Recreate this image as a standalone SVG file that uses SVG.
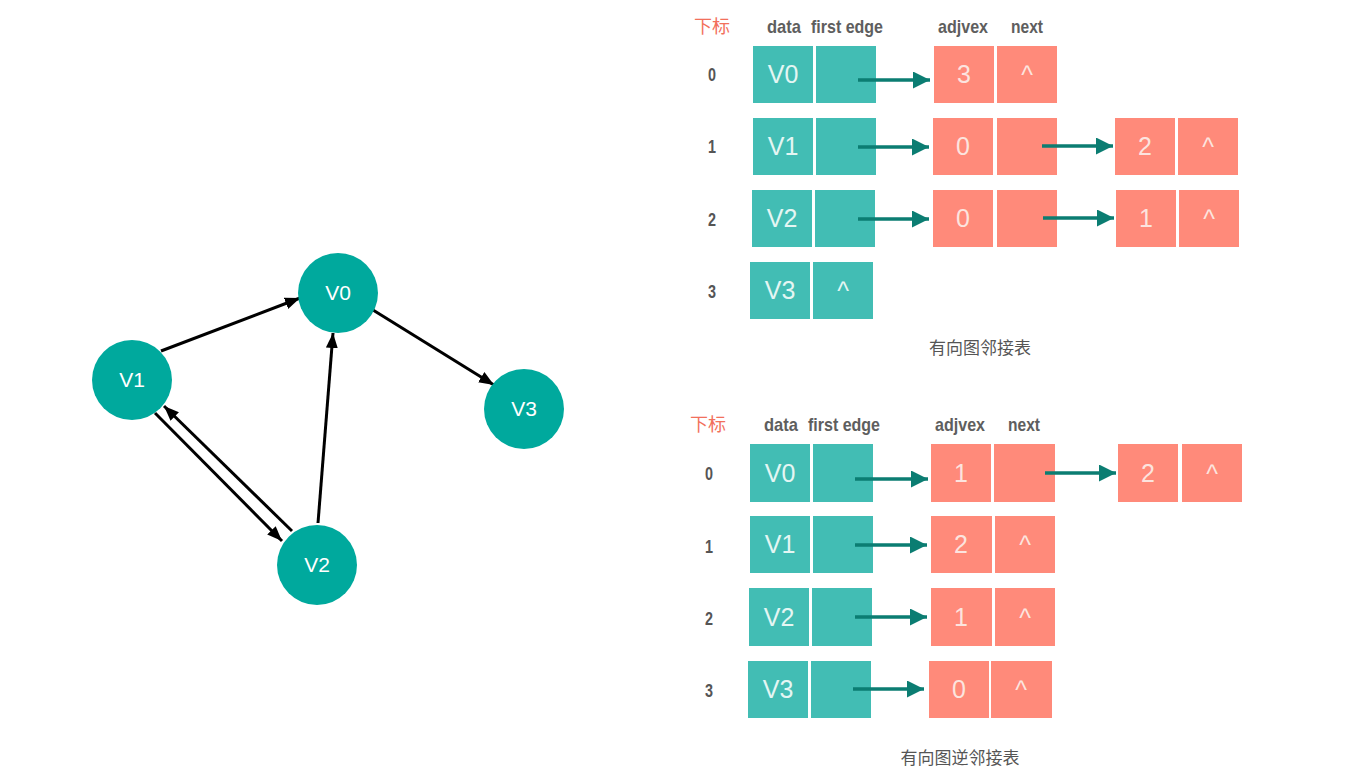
<svg xmlns="http://www.w3.org/2000/svg" width="1362" height="780" viewBox="0 0 1362 780">
<defs>
<style>
.t{fill:#42BDB4}
.r{fill:#FF8A7A}
.tt{font-family:"Liberation Sans",Arial,sans-serif;font-size:25px;fill:#E4F6F3;text-anchor:middle}
.rt{font-family:"Liberation Sans",Arial,sans-serif;font-size:25px;fill:#FCE4DF;text-anchor:middle}
.hd{font-family:"Liberation Sans",Arial,sans-serif;font-size:19px;font-weight:bold;fill:#5E5E5E}
.hr{font-family:"Noto Sans CJK SC",sans-serif;font-size:18px;fill:#F2705B}
.lb{font-family:"Liberation Sans",Arial,sans-serif;font-size:18px;font-weight:bold;fill:#555}
.cap{font-family:"Noto Sans CJK SC",sans-serif;font-size:17px;fill:#555;text-anchor:middle}
.ta{stroke:#0B7D72;stroke-width:3.5;fill:none;marker-end:url(#ta)}
.ge{stroke:#000;stroke-width:3;fill:none;marker-end:url(#ga)}
.nd{fill:#00A99D}
.nt{font-family:"Liberation Sans",Arial,sans-serif;font-size:21px;fill:#fff;text-anchor:middle}
</style>
<marker id="ta" markerUnits="userSpaceOnUse" markerWidth="18" markerHeight="18" refX="17" refY="8.5" orient="auto"><path d="M0,0 L17,8.5 L0,17 z" fill="#0B7D72"/></marker>
<marker id="ga" markerUnits="userSpaceOnUse" markerWidth="16" markerHeight="13" refX="15" refY="6" orient="auto"><path d="M0,0 L15,6 L0,12 z" fill="#000"/></marker>
</defs>
<rect width="1362" height="780" fill="#fff"/>

<!-- Graph -->
<g id="edges">
<line class="ge" x1="161" y1="351" x2="300" y2="298"/>
<line class="ge" x1="373" y1="310" x2="494" y2="385"/>
<line class="ge" x1="318" y1="523" x2="333" y2="333"/>
<line class="ge" x1="155" y1="413" x2="282" y2="541"/>
<line class="ge" x1="292" y1="531" x2="164" y2="406"/>
</g>
<g id="V0"><circle class="nd" cx="338" cy="293" r="40"/><text class="nt" x="338" y="300">V0</text></g>
<g id="V1"><circle class="nd" cx="132" cy="380" r="40"/><text class="nt" x="132" y="387">V1</text></g>
<g id="V2"><circle class="nd" cx="317" cy="565" r="40"/><text class="nt" x="317" y="572">V2</text></g>
<g id="V3"><circle class="nd" cx="524" cy="409" r="40"/><text class="nt" x="524" y="416">V3</text></g>

<!-- Top table: adjacency list -->
<g id="top-header">
<text class="hr" x="694" y="33">下标</text>
<text class="hd" x="767" y="33" textLength="34" lengthAdjust="spacingAndGlyphs">data</text>
<text class="hd" x="811" y="33" textLength="72" lengthAdjust="spacingAndGlyphs">first edge</text>
<text class="hd" x="938" y="33" textLength="50" lengthAdjust="spacingAndGlyphs">adjvex</text>
<text class="hd" x="1011" y="33" textLength="32" lengthAdjust="spacingAndGlyphs">next</text>
</g>
<g id="top-row0">
<text class="lb" x="708" y="81" textLength="8" lengthAdjust="spacingAndGlyphs">0</text>
<rect class="t" x="753" y="46" width="60" height="57"/><text class="tt" x="783" y="83">V0</text>
<rect class="t" x="816" y="46" width="60" height="57"/>
<rect class="r" x="934" y="46" width="60" height="57"/><text class="rt" x="964" y="83">3</text>
<rect class="r" x="997" y="46" width="60" height="57"/><text class="rt" x="1027" y="84" font-size="20">^</text>
</g>
<g id="top-row1">
<text class="lb" x="708" y="153" textLength="8" lengthAdjust="spacingAndGlyphs">1</text>
<rect class="t" x="753" y="118" width="60" height="57"/><text class="tt" x="783" y="155">V1</text>
<rect class="t" x="816" y="118" width="60" height="57"/>
<rect class="r" x="933" y="118" width="60" height="57"/><text class="rt" x="963" y="155">0</text>
<rect class="r" x="997" y="118" width="60" height="57"/>
<rect class="r" x="1115" y="118" width="60" height="57"/><text class="rt" x="1145" y="155">2</text>
<rect class="r" x="1178" y="118" width="60" height="57"/><text class="rt" x="1208" y="156" font-size="20">^</text>
</g>
<g id="top-row2">
<text class="lb" x="708" y="226" textLength="8" lengthAdjust="spacingAndGlyphs">2</text>
<rect class="t" x="752" y="190" width="60" height="57"/><text class="tt" x="782" y="227">V2</text>
<rect class="t" x="815" y="190" width="60" height="57"/>
<rect class="r" x="933" y="190" width="60" height="57"/><text class="rt" x="963" y="227">0</text>
<rect class="r" x="997" y="190" width="60" height="57"/>
<rect class="r" x="1116" y="190" width="60" height="57"/><text class="rt" x="1146" y="227">1</text>
<rect class="r" x="1179" y="190" width="60" height="57"/><text class="rt" x="1209" y="228" font-size="20">^</text>
</g>
<g id="top-row3">
<text class="lb" x="708" y="298" textLength="8" lengthAdjust="spacingAndGlyphs">3</text>
<rect class="t" x="750" y="262" width="60" height="57"/><text class="tt" x="780" y="299">V3</text>
<rect class="t" x="813" y="262" width="60" height="57"/><text class="tt" x="843" y="300" font-size="20">^</text>
</g>
<text class="cap" x="980" y="354">有向图邻接表</text>

<!-- Bottom table: inverse adjacency list -->
<g id="bottom-header">
<text class="hr" x="690" y="431">下标</text>
<text class="hd" x="764" y="431" textLength="34" lengthAdjust="spacingAndGlyphs">data</text>
<text class="hd" x="808" y="431" textLength="72" lengthAdjust="spacingAndGlyphs">first edge</text>
<text class="hd" x="935" y="431" textLength="50" lengthAdjust="spacingAndGlyphs">adjvex</text>
<text class="hd" x="1008" y="431" textLength="32" lengthAdjust="spacingAndGlyphs">next</text>
</g>
<g id="bottom-row0">
<text class="lb" x="705" y="480" textLength="8" lengthAdjust="spacingAndGlyphs">0</text>
<rect class="t" x="750" y="444" width="60" height="58"/><text class="tt" x="780" y="482">V0</text>
<rect class="t" x="813" y="444" width="60" height="58"/>
<rect class="r" x="931" y="444" width="60" height="58"/><text class="rt" x="961" y="482">1</text>
<rect class="r" x="994" y="444" width="61" height="58"/>
<rect class="r" x="1118" y="444" width="60" height="58"/><text class="rt" x="1148" y="482">2</text>
<rect class="r" x="1182" y="444" width="60" height="58"/><text class="rt" x="1212" y="483" font-size="20">^</text>
</g>
<g id="bottom-row1">
<text class="lb" x="705" y="553" textLength="8" lengthAdjust="spacingAndGlyphs">1</text>
<rect class="t" x="750" y="516" width="60" height="57"/><text class="tt" x="780" y="553">V1</text>
<rect class="t" x="813" y="516" width="60" height="57"/>
<rect class="r" x="931" y="516" width="61" height="57"/><text class="rt" x="961" y="553">2</text>
<rect class="r" x="995" y="516" width="60" height="57"/><text class="rt" x="1025" y="554" font-size="20">^</text>
</g>
<g id="bottom-row2">
<text class="lb" x="705" y="625" textLength="8" lengthAdjust="spacingAndGlyphs">2</text>
<rect class="t" x="749" y="588" width="60" height="58"/><text class="tt" x="779" y="626">V2</text>
<rect class="t" x="812" y="588" width="60" height="58"/>
<rect class="r" x="931" y="588" width="61" height="58"/><text class="rt" x="961" y="626">1</text>
<rect class="r" x="995" y="588" width="60" height="58"/><text class="rt" x="1025" y="627" font-size="20">^</text>
</g>
<g id="bottom-row3">
<text class="lb" x="705" y="697" textLength="8" lengthAdjust="spacingAndGlyphs">3</text>
<rect class="t" x="748" y="661" width="60" height="57"/><text class="tt" x="778" y="698">V3</text>
<rect class="t" x="811" y="661" width="60" height="57"/>
<rect class="r" x="929" y="661" width="60" height="57"/><text class="rt" x="959" y="698">0</text>
<rect class="r" x="991" y="661" width="61" height="57"/><text class="rt" x="1021" y="699" font-size="20">^</text>
</g>
<text class="cap" x="960" y="764" font-size="18">有向图逆邻接表</text>

<g id="table-connectors">
<line class="ta" x1="858" y1="80" x2="930" y2="80"/>
<line class="ta" x1="858" y1="147" x2="929" y2="147"/>
<line class="ta" x1="1042" y1="146" x2="1113" y2="146"/>
<line class="ta" x1="858" y1="219" x2="929" y2="219"/>
<line class="ta" x1="1043" y1="218" x2="1114" y2="218"/>
<line class="ta" x1="855" y1="479" x2="928" y2="479"/>
<line class="ta" x1="1045" y1="473" x2="1116" y2="473"/>
<line class="ta" x1="855" y1="545" x2="927" y2="545"/>
<line class="ta" x1="855" y1="617" x2="927" y2="617"/>
<line class="ta" x1="853" y1="689" x2="924" y2="689"/>
</g>
</svg>
